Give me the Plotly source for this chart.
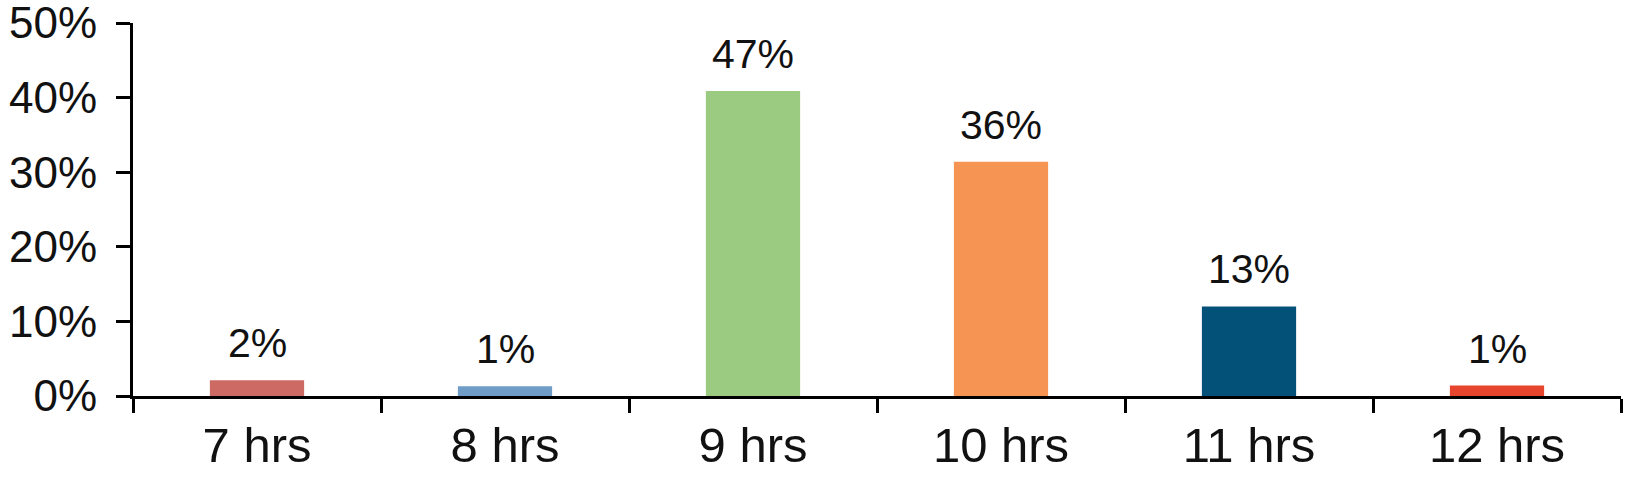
import plotly.graph_objects as go

categories = ['7 hrs', '8 hrs', '9 hrs', '10 hrs', '11 hrs', '12 hrs']
bar_values = [2.1, 1.3, 40.9, 31.4, 12.0, 1.4]
bar_labels = ['2%', '1%', '47%', '36%', '13%', '1%']
bar_colors = ['#CD6A63', '#6F9DC7', '#9BCB80', '#F69553', '#035079', '#E8452F']
y_ticks = [0, 10, 20, 30, 40, 50]
y_tick_labels = ['0%', '10%', '20%', '30%', '40%', '50%']

font = 'Liberation Sans, Arial, Helvetica, sans-serif'

fig = go.Figure()
fig.add_bar(
    x=categories,
    y=bar_values,
    marker=dict(color=bar_colors, line=dict(width=0)),
    hoverinfo='skip',
    showlegend=False,
)

for cat, val, lab in zip(categories, bar_values, bar_labels):
    fig.add_annotation(
        x=cat, y=val, text=lab, showarrow=False,
        yanchor='bottom', yshift=12,
        font=dict(family=font, size=41, color='#111111'),
    )

fig.update_layout(
    width=1651, height=487,
    margin=dict(l=133, r=30, t=23, b=91),
    plot_bgcolor='white', paper_bgcolor='white',
    bargap=0.62,
    font=dict(family=font, color='#111111'),
)
fig.update_xaxes(
    type='category',
    tickson='boundaries',
    ticks='outside', ticklen=14, tickwidth=3, tickcolor='black',
    showline=True, linewidth=3, linecolor='black',
    showgrid=False, zeroline=False,
    tickfont=dict(family=font, size=49, color='#111111'),
    ticklabelstandoff=4,
    automargin=False,
)
fig.update_yaxes(
    range=[0, 50],
    tickvals=y_ticks, ticktext=y_tick_labels,
    ticks='outside', ticklen=14, tickwidth=3, tickcolor='black',
    showline=True, linewidth=3, linecolor='black',
    showgrid=False, zeroline=False,
    tickfont=dict(family=font, size=44, color='#111111'),
    ticklabelstandoff=10,
    ticklabeloverflow='allow',
    automargin=False,
)

# drop the browser's default 8px body margin so the figure fills the window
fig.write_html("out.html", config={'displayModeBar': False},
               post_script="document.body.style.margin = '0';")
